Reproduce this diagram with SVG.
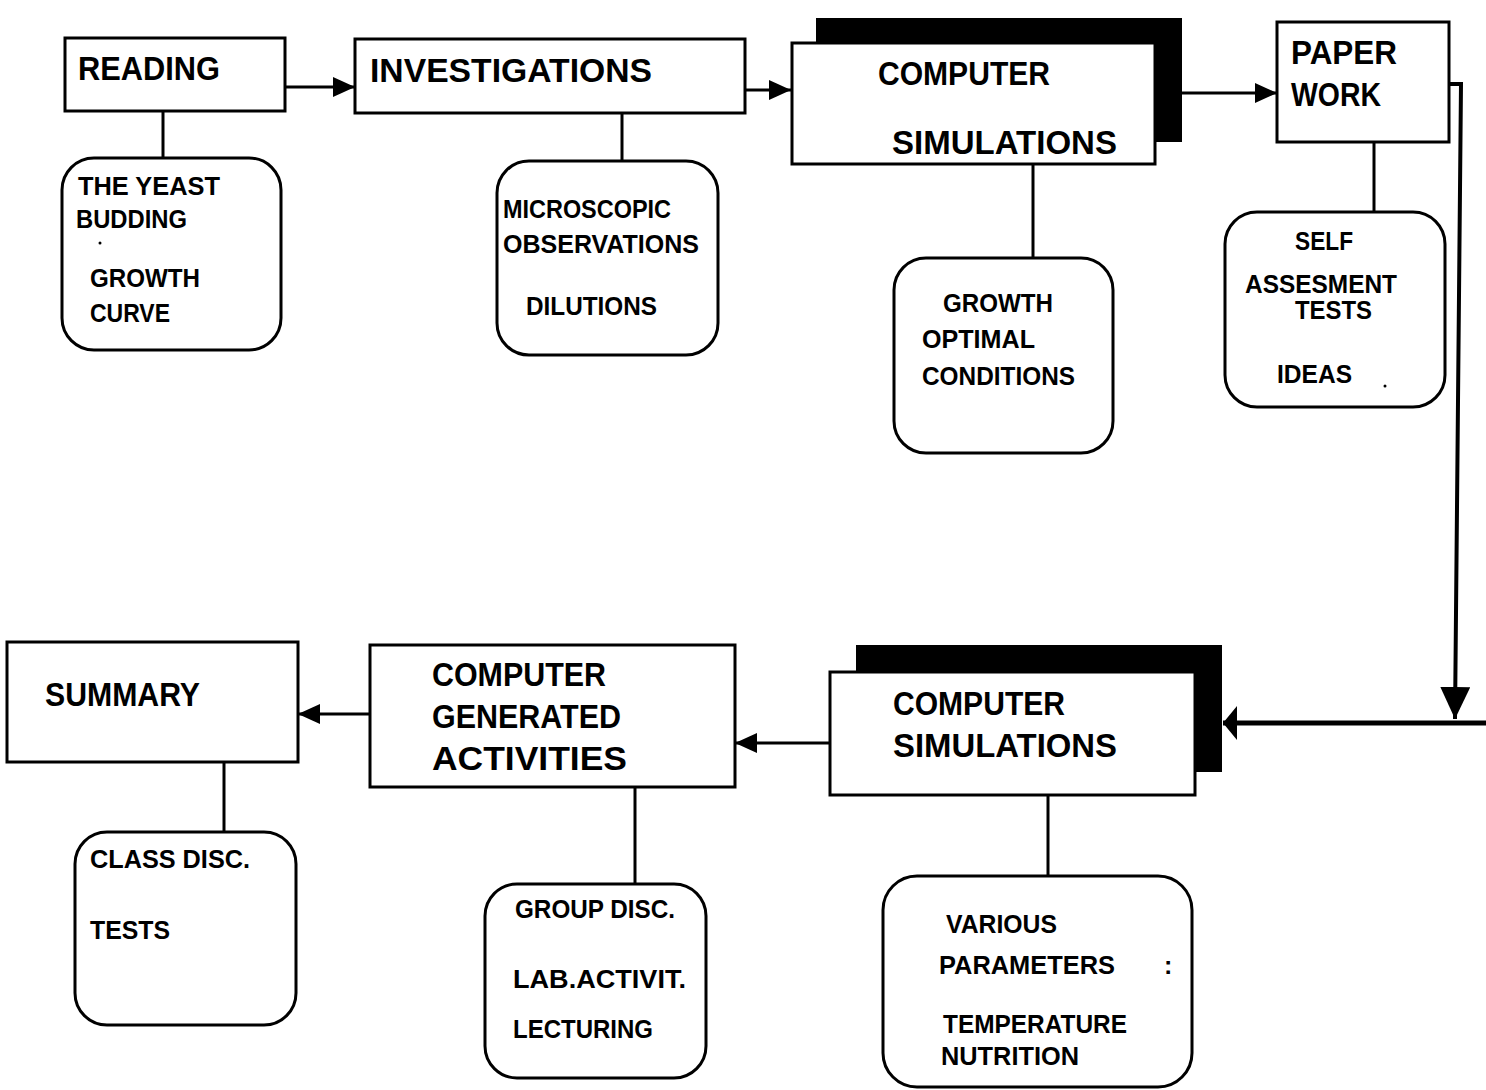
<svg xmlns="http://www.w3.org/2000/svg" width="1486" height="1090" viewBox="0 0 1486 1090">
<style>
.box{fill:#fff;stroke:#000;stroke-width:3}
.shadow{fill:#000}
.sub{fill:#fff;stroke:#000;stroke-width:3}
.ln{fill:none;stroke:#000;stroke-width:3}
.big{font-family:"Liberation Sans",Arial,sans-serif;font-weight:bold;font-size:33px;fill:#000}
.sm{font-family:"Liberation Sans",Arial,sans-serif;font-weight:bold;font-size:25px;fill:#000}
</style>
<defs>
<marker id="ah" viewBox="0 0 22 20" refX="22" refY="10" markerWidth="22" markerHeight="20" markerUnits="userSpaceOnUse" orient="auto">
<path d="M0,0 L22,10 L0,20 z" fill="#000"/>
</marker>
<marker id="ahd" viewBox="0 0 32 30" refX="32" refY="15" markerWidth="32" markerHeight="30" markerUnits="userSpaceOnUse" orient="auto">
<path d="M0,0 L32,15 L0,30 z" fill="#000"/>
</marker>
<marker id="ahl" viewBox="0 0 14 34" refX="14" refY="17" markerWidth="14" markerHeight="34" markerUnits="userSpaceOnUse" orient="auto">
<path d="M0,0 L14,17 L0,34 z" fill="#000"/>
</marker>
</defs>
<rect width="1486" height="1090" fill="#fff"/>

<g id="connectors">
<line class="ln" x1="285" y1="87" x2="355" y2="87" marker-end="url(#ah)"/>
<line class="ln" x1="745" y1="90" x2="791" y2="90" marker-end="url(#ah)"/>
<line class="ln" x1="1182" y1="93" x2="1277" y2="93" marker-end="url(#ah)"/>
<polyline class="ln" points="1449,84 1461,84 1455,719" marker-end="url(#ahd)" style="stroke-width:4"/>
<line class="ln" x1="1486" y1="723" x2="1223" y2="723" marker-end="url(#ahl)" style="stroke-width:5"/>
<line class="ln" x1="370" y1="714" x2="298" y2="714" marker-end="url(#ah)"/>
<line class="ln" x1="830" y1="743" x2="735" y2="743" marker-end="url(#ah)"/>
<line class="ln" x1="163" y1="111" x2="163" y2="158"/>
<line class="ln" x1="622" y1="113" x2="622" y2="160"/>
<line class="ln" x1="1033" y1="164" x2="1033" y2="258"/>
<line class="ln" x1="1374" y1="142" x2="1374" y2="212"/>
<line class="ln" x1="224" y1="762" x2="224" y2="832"/>
<line class="ln" x1="635" y1="787" x2="635" y2="884"/>
<line class="ln" x1="1048" y1="795" x2="1048" y2="876"/>
</g>

<g id="reading">
<rect class="box" x="65" y="38" width="220" height="73"/>
<text class="big" x="78" y="80" textLength="142" lengthAdjust="spacingAndGlyphs">READING</text>
</g>
<g id="investigations">
<rect class="box" x="355" y="39" width="390" height="74"/>
<text class="big" x="370" y="82" textLength="282" lengthAdjust="spacingAndGlyphs">INVESTIGATIONS</text>
</g>
<g id="computer-simulations-1">
<rect class="shadow" x="816" y="18" width="366" height="124"/>
<rect class="box" x="792" y="43" width="363" height="121"/>
<text class="big" x="878" y="85" textLength="172" lengthAdjust="spacingAndGlyphs">COMPUTER</text>
<text class="big" x="892" y="154" textLength="225" lengthAdjust="spacingAndGlyphs">SIMULATIONS</text>
</g>
<g id="paper-work">
<rect class="box" x="1277" y="22" width="172" height="120"/>
<text class="big" x="1291" y="64" textLength="106" lengthAdjust="spacingAndGlyphs">PAPER</text>
<text class="big" x="1291" y="106" textLength="90" lengthAdjust="spacingAndGlyphs">WORK</text>
</g>

<g id="reading-sub">
<rect class="sub" x="62" y="158" width="219" height="192" rx="32"/>
<text class="sm" x="78" y="195" textLength="142" lengthAdjust="spacingAndGlyphs">THE YEAST</text>
<text class="sm" x="76" y="228" textLength="111" lengthAdjust="spacingAndGlyphs">BUDDING</text>
<circle cx="100" cy="243" r="1.5" fill="#000"/>
<text class="sm" x="90" y="287" textLength="110" lengthAdjust="spacingAndGlyphs">GROWTH</text>
<text class="sm" x="90" y="322" textLength="80" lengthAdjust="spacingAndGlyphs">CURVE</text>
</g>
<g id="investigations-sub">
<rect class="sub" x="497" y="161" width="221" height="194" rx="32"/>
<text class="sm" x="503" y="218" textLength="168" lengthAdjust="spacingAndGlyphs">MICROSCOPIC</text>
<text class="sm" x="503" y="253" textLength="196" lengthAdjust="spacingAndGlyphs">OBSERVATIONS</text>
<text class="sm" x="526" y="315" textLength="131" lengthAdjust="spacingAndGlyphs">DILUTIONS</text>
</g>
<g id="computer-simulations-1-sub">
<rect class="sub" x="894" y="258" width="219" height="195" rx="32"/>
<text class="sm" x="943" y="312" textLength="110" lengthAdjust="spacingAndGlyphs">GROWTH</text>
<text class="sm" x="922" y="348" textLength="113" lengthAdjust="spacingAndGlyphs">OPTIMAL</text>
<text class="sm" x="922" y="385" textLength="153" lengthAdjust="spacingAndGlyphs">CONDITIONS</text>
</g>
<g id="paper-work-sub">
<rect class="sub" x="1225" y="212" width="220" height="195" rx="32"/>
<text class="sm" x="1295" y="250" textLength="58" lengthAdjust="spacingAndGlyphs">SELF</text>
<text class="sm" x="1245" y="293" textLength="152" lengthAdjust="spacingAndGlyphs">ASSESMENT</text>
<text class="sm" x="1295" y="319" textLength="77" lengthAdjust="spacingAndGlyphs">TESTS</text>
<text class="sm" x="1277" y="383" textLength="75" lengthAdjust="spacingAndGlyphs">IDEAS</text>
<circle cx="1385" cy="386" r="1.5" fill="#000"/>
</g>

<g id="summary">
<rect class="box" x="7" y="642" width="291" height="120"/>
<text class="big" x="45" y="706" textLength="155" lengthAdjust="spacingAndGlyphs">SUMMARY</text>
</g>
<g id="computer-generated-activities">
<rect class="box" x="370" y="645" width="365" height="142"/>
<text class="big" x="432" y="686" textLength="174" lengthAdjust="spacingAndGlyphs">COMPUTER</text>
<text class="big" x="432" y="728" textLength="189" lengthAdjust="spacingAndGlyphs">GENERATED</text>
<text class="big" x="432" y="770" textLength="195" lengthAdjust="spacingAndGlyphs">ACTIVITIES</text>
</g>
<g id="computer-simulations-2">
<rect class="shadow" x="856" y="645" width="366" height="127"/>
<rect class="box" x="830" y="672" width="365" height="123"/>
<text class="big" x="893" y="715" textLength="172" lengthAdjust="spacingAndGlyphs">COMPUTER</text>
<text class="big" x="893" y="757" textLength="224" lengthAdjust="spacingAndGlyphs">SIMULATIONS</text>
</g>

<g id="summary-sub">
<rect class="sub" x="75" y="832" width="221" height="193" rx="32"/>
<text class="sm" x="90" y="868" textLength="160" lengthAdjust="spacingAndGlyphs">CLASS DISC.</text>
<text class="sm" x="90" y="939" textLength="80" lengthAdjust="spacingAndGlyphs">TESTS</text>
</g>
<g id="computer-generated-activities-sub">
<rect class="sub" x="485" y="884" width="221" height="194" rx="32"/>
<text class="sm" x="515" y="918" textLength="160" lengthAdjust="spacingAndGlyphs">GROUP DISC.</text>
<text class="sm" x="513" y="988" textLength="173" lengthAdjust="spacingAndGlyphs">LAB.ACTIVIT.</text>
<text class="sm" x="513" y="1038" textLength="140" lengthAdjust="spacingAndGlyphs">LECTURING</text>
</g>
<g id="computer-simulations-2-sub">
<rect class="sub" x="883" y="876" width="309" height="211" rx="34"/>
<text class="sm" x="946" y="933" textLength="111" lengthAdjust="spacingAndGlyphs">VARIOUS</text>
<text class="sm" x="939" y="974" textLength="176" lengthAdjust="spacingAndGlyphs">PARAMETERS</text>
<text class="sm" x="1164" y="974">:</text>
<text class="sm" x="943" y="1033" textLength="184" lengthAdjust="spacingAndGlyphs">TEMPERATURE</text>
<text class="sm" x="941" y="1065" textLength="138" lengthAdjust="spacingAndGlyphs">NUTRITION</text>
</g>
</svg>
